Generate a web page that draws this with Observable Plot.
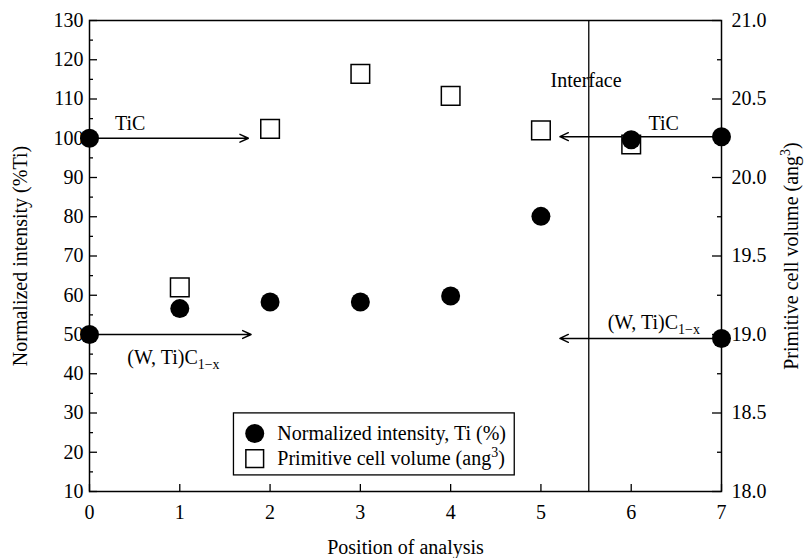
<!DOCTYPE html>
<html><head><meta charset="utf-8">
<script src="https://cdn.jsdelivr.net/npm/d3@7"></script>
<script src="https://cdn.jsdelivr.net/npm/@observablehq/plot@0.6"></script>
<style>
body{margin:0;background:#fff}
#chart svg{font-family:"Liberation Serif","Times New Roman",serif}
</style>
</head><body><div id="chart"></div>
<script>
// ---- data ----
const intensityPos = [0, 0, 1, 2, 3, 4, 5, 6, 7, 7];
const intensity    = [100, 50, 56.6, 58.3, 58.3, 59.8, 80.1, 99.6, 100.4, 49];
const volumePos    = [1, 2, 3, 4, 5, 6];
const volume       = [19.30, 20.31, 20.66, 20.52, 20.30, 20.21];

const xTicks     = [0, 1, 2, 3, 4, 5, 6, 7];
const leftTicks  = [10, 20, 30, 40, 50, 60, 70, 80, 90, 100, 110, 120, 130];
const leftMinor  = [15, 25, 35, 45, 55, 65, 75, 85, 95, 105, 115, 125];
const rightTicks = [18.0, 18.5, 19.0, 19.5, 20.0, 20.5, 21.0];
const rightMinor = [18.25, 18.75, 19.25, 19.75, 20.25, 20.75];
const xDomain = [0, 7];
const yDomain = [10, 130];
const vDomain = [18, 21];

const interfacePos = [5.53];

const arrowStart = [0, 0, 7, 7];
const arrowEnd   = [1.76, 1.79, 5.21, 5.21];
const arrowLevel = [100, 50, 100.4, 49];

const labelText = ["TiC", "(W, Ti)C_1−x", "TiC", "(W, Ti)C_1−x", "Interface"];
const labelX    = [0.45, 0.93, 6.36, 6.25, 5.5];
const labelY    = [103.8, 44.1, 103.8, 53, 114.7];

const legendText = ["Normalized intensity, Ti (%)", "Primitive cell volume (ang^3)"];
const legendSymbol = ["circle", "square"];
const legendRowY = [24.8, 18.4];
const legendBox = {x1: 1.6, x2: 4.71, y1: 14.1, y2: 29.9};
const legendSymbolX = 1.83;
const legendTextX = 2.08;

// ---- layout ----
const W = 805, H = 558;
const M = {left: 89, right: 84, top: 20, bottom: 67};
const innerW = W - M.left - M.right;
const innerH = H - M.top - M.bottom;
const FS = 20;

// pixel length -> data length (for inward tick marks)
const pxX = px => px / innerW * (xDomain[1] - xDomain[0]);
const pxY = px => px / innerH * (yDomain[1] - yDomain[0]);

// ---- helpers ----
const k = (yDomain[1] - yDomain[0]) / (vDomain[1] - vDomain[0]);
const toLeft = v => yDomain[0] + (v - vDomain[0]) * k;
const fromLeft = y => vDomain[0] + (y - yDomain[0]) / k;

const intensityData = intensityPos.map((x, i) => ({x, y: intensity[i]}));
const volumeData = volumePos.map((x, i) => ({x, v: volume[i]}));
const arrows = arrowStart.map((x1, i) => ({x1, x2: arrowEnd[i], y: arrowLevel[i]}));
const labels = labelText.map((t, i) => ({t, x: labelX[i], y: labelY[i]}));
const legendRows = legendText.map((t, i) => ({t, s: legendSymbol[i], y: legendRowY[i]}));

const tickStyle = {stroke: "black", strokeWidth: 1.3};
const leftTick = len => ({...tickStyle, y: d => d, x1: xDomain[0], x2: xDomain[0] + pxX(len)});
const rightTick = len => ({...tickStyle, y: d => d, x1: xDomain[1] - pxX(len), x2: xDomain[1]});

const plot = Plot.plot({
  width: W,
  height: H,
  marginLeft: M.left,
  marginRight: M.right,
  marginTop: M.top,
  marginBottom: M.bottom,
  style: {fontFamily: "Liberation Serif, serif", fontSize: FS + "px", color: "black", background: "white", overflow: "visible"},
  x: {domain: xDomain},
  y: {domain: yDomain},
  marks: [
    Plot.ruleX(interfacePos, {y1: yDomain[0], y2: yDomain[1], stroke: "black", strokeWidth: 1.3}),
    // axis labels (no outward ticks)
    Plot.axisX(xTicks, {tickSize: 0, tickPadding: 13, label: "Position of analysis", labelAnchor: "center", labelArrow: "none", labelOffset: 62}),
    Plot.axisY(leftTicks, {anchor: "left", tickSize: 0, tickPadding: 6, label: "Normalized intensity (%Ti)", labelAnchor: "center", labelArrow: "none", labelOffset: 77}),
    Plot.axisY(rightTicks.map(toLeft), {anchor: "right", tickSize: 0, tickPadding: 10, tickFormat: d => fromLeft(d).toFixed(1), label: "Primitive cell volume (ang^3)", labelAnchor: "center", labelArrow: "none", labelOffset: 76}),
    // inward ticks
    Plot.ruleX(xTicks, {...tickStyle, x: d => d, y1: yDomain[0], y2: yDomain[0] + pxY(7)}),
    Plot.ruleY(leftTicks, leftTick(8)),
    Plot.ruleY(leftMinor, leftTick(4)),
    Plot.ruleY(rightTicks.map(toLeft), rightTick(9)),
    Plot.ruleY(rightMinor.map(toLeft), rightTick(4)),
    Plot.frame({stroke: "black", strokeWidth: 1.5}),
    Plot.arrow(arrows, {x1: "x1", x2: "x2", y1: "y", y2: "y", stroke: "black", strokeWidth: 1.4, headLength: 10, headAngle: 50}),
    Plot.dot(volumeData, {x: "x", y: d => toLeft(d.v), symbol: "square", r: 10.5, fill: "white", stroke: "black", strokeWidth: 1.5}),
    Plot.dot(intensityData, {x: "x", y: "y", r: 9.5, fill: "black"}),
    Plot.text(labels, {x: "x", y: "y", text: "t", fontSize: FS, fill: "black"}),
    Plot.rect([legendBox], {x1: "x1", x2: "x2", y1: "y1", y2: "y2", fill: "white", stroke: "black", strokeWidth: 1.3}),
    Plot.dot(legendRows.filter(d => d.s === "circle"), {x: legendSymbolX, y: "y", r: 9.5, fill: "black"}),
    Plot.dot(legendRows.filter(d => d.s === "square"), {x: legendSymbolX, y: "y", symbol: "square", r: 10, fill: "white", stroke: "black", strokeWidth: 1.5}),
    Plot.text(legendRows, {x: legendTextX, y: "y", text: "t", textAnchor: "start", fontSize: FS, fill: "black"})
  ]
});

// rich text: subscripts (_) and superscripts (^)
const NS = "http://www.w3.org/2000/svg";
plot.querySelectorAll("text").forEach(t => {
  if (t.querySelector("tspan")) return;
  const s = t.textContent;
  const m = s.match(/^(.*?)([_^])([^)\s]+)(.*)$/);
  if (!m) return;
  const [, base, mark, script, tail] = m;
  const shift = mark === "_" ? 5 : -8;
  t.textContent = "";
  const a = document.createElementNS(NS, "tspan"); a.textContent = base; t.appendChild(a);
  const b = document.createElementNS(NS, "tspan"); b.textContent = script;
  b.setAttribute("font-size", "14"); b.setAttribute("dy", shift); t.appendChild(b);
  if (tail) {
    const c = document.createElementNS(NS, "tspan"); c.textContent = tail;
    c.setAttribute("dy", -shift); t.appendChild(c);
  }
});

document.getElementById("chart").appendChild(plot);
</script>
</body></html>
